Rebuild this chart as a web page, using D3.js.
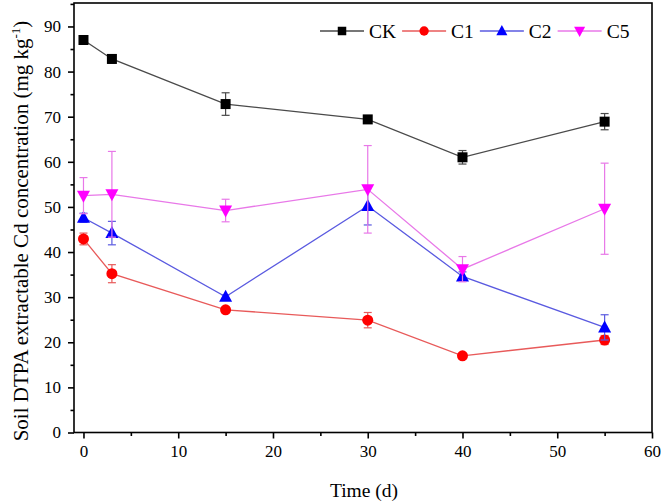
<!DOCTYPE html>
<html><head><meta charset="utf-8">
<script src="https://d3js.org/d3.v7.min.js"></script>
<style>body{margin:0;background:#fff}svg{display:block}text{font-family:"Liberation Serif","Times New Roman",serif;fill:#000}</style>
</head><body><div id="chart"></div>
<script>
const days = [0, 3, 15, 30, 40, 55];
const seriesNames = ["CK", "C1", "C2", "C5"];
const ckValues = [87.0, 82.8, 72.8, 69.4, 61.0, 68.9];
const ckErrors = [0.5, 0.9, 2.5, 0.4, 1.5, 1.8];
const c1Values = [42.9, 35.2, 27.2, 24.9, 17.0, 20.5];
const c1Errors = [1.3, 2.0, 0.5, 1.7, 0.3, 1.0];
const c2Values = [47.6, 44.2, 30.1, 50.2, 34.6, 23.3];
const c2Errors = [1.0, 2.6, 0.4, 4.2, 1.0, 2.8];
const c5Values = [52.5, 52.8, 49.2, 53.9, 36.2, 49.6];
const c5Errors = [4.0, 9.5, 2.5, 9.7, 2.8, 10.1];
const xTicks = [0, 10, 20, 30, 40, 50, 60];
const yTicks = [0, 10, 20, 30, 40, 50, 60, 70, 80, 90];

const W = 664, H = 502;
const svg = d3.select("#chart").append("svg").attr("width", W).attr("height", H);
const x = d3.scaleLinear().domain([-1, 60]).range([74, 652]);
const y = d3.scaleLinear().domain([0, 95.2]).range([432.5, 3]);

const styles = {
  CK: {vals: ckValues, errs: ckErrors, mark: "#000000", line: "#4a4a4a", shape: "square"},
  C1: {vals: c1Values, errs: c1Errors, mark: "#ff0000", line: "#e85a5a", shape: "circle"},
  C2: {vals: c2Values, errs: c2Errors, mark: "#0000ff", line: "#5a5ae0", shape: "up"},
  C5: {vals: c5Values, errs: c5Errors, mark: "#ff00ff", line: "#e878e8", shape: "down"}
};

svg.append("rect").attr("x", 74).attr("y", 3).attr("width", 578).attr("height", 429.5)
  .attr("fill", "none").attr("stroke", "#000").attr("stroke-width", 1.6);

const xAxis = svg.append("g").attr("transform", "translate(0,432.5)");
xAxis.call(d3.axisBottom(x).tickValues(xTicks).tickSize(6).tickPadding(6).tickFormat(d3.format("d")));
xAxis.append("g").call(d3.axisBottom(x).tickValues([5,15,25,35,45,55]).tickSize(3.5).tickFormat(""));
xAxis.selectAll(".domain").remove();
xAxis.selectAll("line").attr("stroke", "#000").attr("stroke-width", 1.6);
xAxis.selectAll("text").style("font-size", "17px").style("font-family", '"Liberation Serif",serif');

const yAxis = svg.append("g").attr("transform", "translate(74,0)");
yAxis.call(d3.axisLeft(y).tickValues(yTicks).tickSize(6).tickPadding(7).tickFormat(d3.format("d")));
yAxis.append("g").call(d3.axisLeft(y).tickValues([5,15,25,35,45,55,65,75,85,95]).tickSize(3.5).tickFormat(""));
yAxis.selectAll(".domain").remove();
yAxis.selectAll("line").attr("stroke", "#000").attr("stroke-width", 1.6);
yAxis.selectAll("text").style("font-size", "17px").style("font-family", '"Liberation Serif",serif');

svg.append("text").attr("x", 364).attr("y", 497).attr("text-anchor", "middle")
  .style("font-size", "19.5px").text("Time (d)");
const yt = svg.append("text").attr("transform", "translate(28,231) rotate(-90)")
  .attr("text-anchor", "middle").style("font-size", "21px");
yt.append("tspan").text("Soil DTPA extractable Cd concentration (mg kg");
yt.append("tspan").attr("dy", -8).style("font-size", "13px").text("-1");
yt.append("tspan").attr("dy", 8).text(")");

function drawMarker(g, shape, cx, cy, color, s) {
  if (shape === "square") {
    g.append("rect").attr("x", cx - 5 * s).attr("y", cy - 5 * s).attr("width", 10 * s).attr("height", 10 * s).attr("fill", color);
  } else if (shape === "circle") {
    g.append("circle").attr("cx", cx).attr("cy", cy).attr("r", 5.5 * s).attr("fill", color);
  } else if (shape === "up") {
    g.append("path").attr("d", `M${cx},${cy-7*s}L${cx+6.5*s},${cy+5*s}L${cx-6.5*s},${cy+5*s}Z`).attr("fill", color);
  } else {
    g.append("path").attr("d", `M${cx},${cy+7*s}L${cx+6.5*s},${cy-5*s}L${cx-6.5*s},${cy-5*s}Z`).attr("fill", color);
  }
}

const line = d3.line().x(d => x(d[0])).y(d => y(d[1]));
seriesNames.forEach(name => {
  const s = styles[name];
  const g = svg.append("g");
  const pts = days.map((d, i) => [d, s.vals[i], s.errs[i]]);
  g.append("path").datum(pts).attr("d", line).attr("fill", "none").attr("stroke", s.line).attr("stroke-width", 1.3);
  pts.forEach(p => {
    const cx = x(p[0]), top = y(p[1] + p[2]), bot = y(p[1] - p[2]);
    g.append("line").attr("x1", cx).attr("x2", cx).attr("y1", top).attr("y2", bot).attr("stroke", s.line).attr("stroke-width", 1.2);
    [top, bot].forEach(yy => g.append("line").attr("x1", cx - 4).attr("x2", cx + 4).attr("y1", yy).attr("y2", yy).attr("stroke", s.line).attr("stroke-width", 1.2));
  });
  pts.forEach(p => drawMarker(g, s.shape, x(p[0]), y(p[1]), s.mark, 1));
});

let lx = 320;
const ly = 31;
seriesNames.forEach(name => {
  const s = styles[name];
  const g = svg.append("g");
  g.append("line").attr("x1", lx).attr("x2", lx + 44).attr("y1", ly).attr("y2", ly).attr("stroke", s.line).attr("stroke-width", 1.3);
  drawMarker(g, s.shape, lx + 22, ly, s.mark, 0.85);
  const t = g.append("text").attr("x", lx + 49).attr("y", ly + 7).style("font-size", "19.5px").text(name);
  lx = lx + 49 + t.node().getComputedTextLength() + 6;
});
</script></body></html>
